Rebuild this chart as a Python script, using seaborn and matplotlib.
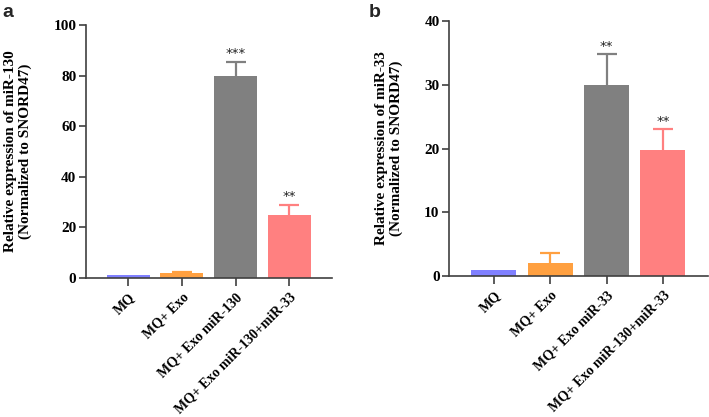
import matplotlib
matplotlib.use("Agg")
import matplotlib.pyplot as plt
import seaborn as sns
import pandas as pd

sns.set_theme(style="white")
plt.rcParams['font.family'] = ['Liberation Serif', 'DejaVu Serif']

cats_a = ["MQ", "MQ+ Exo", "MQ+ Exo miR-130", "MQ+ Exo miR-130+miR-33"]
vals_a = [1.0, 1.8, 80.0, 25.0]
errs_a = [0.0, 0.7, 5.5, 4.0]
stars_a = ["", "", "***", "**"]

cats_b = ["MQ", "MQ+ Exo", "MQ+ Exo miR-33", "MQ+ Exo miR-130+miR-33"]
vals_b = [1.0, 2.0, 30.0, 19.7]
errs_b = [0.0, 1.6, 4.8, 3.3]
stars_b = ["", "", "**", "**"]

colors = ["#8080FF", "#FFA040", "#808080", "#FF8080"]

ylabels = ["Relative expression of miR-130\n(Normalized to SNORD47)",
           "Relative expression of miR-33\n(Normalized to SNORD47)"]
yticks_a = [0, 20, 40, 60, 80, 100]
yticks_b = [0, 10, 20, 30, 40]

fig = plt.figure(figsize=(7.09, 4.17), dpi=100)
ax_a = fig.add_axes([86/709, 1-278/417, 246/709, 253/417])
ax_b = fig.add_axes([449.3/709, 1-276/417, 258.7/709, 255/417])

spine_col = "#404040"

def draw(ax, cats, vals, errs, stars, ylabel, yticks, letter, letter_x):
    df = pd.DataFrame({"group": cats, "value": vals})
    sns.barplot(data=df, x="group", y="value", hue="group", palette=colors,
                legend=False, ax=ax, width=0.8, saturation=1, errorbar=None,
                linewidth=0, edgecolor="none")
    xs = list(range(len(cats)))
    for x, v, e, c, s in zip(xs, vals, errs, colors, stars):
        if e > 0:
            eb = ax.errorbar([x], [v], yerr=[[0], [e]], fmt="none", ecolor=c,
                             elinewidth=1.6, capsize=7.5, capthick=1.6)
            caps = eb[1]
            if len(caps) == 2:
                caps[0].set_visible(False)
        if s:
            ax.annotate(s, (x, v + e), xytext=(0, 1), textcoords="offset points",
                        ha="center", va="bottom", fontsize=9.5,
                        family="DejaVu Sans", color="#222222")
    ax.set_ylim(0, yticks[-1])
    ax.set_yticks(yticks)
    ax.set_xlim(-0.79, 3.8)
    ax.set_xlabel("")
    ax.set_ylabel(ylabel, fontsize=11, fontweight="bold", color="black", labelpad=15)
    ax.set_xticks(xs)
    ax.set_xticklabels(cats, rotation=45, ha="right", rotation_mode="anchor",
                       fontsize=10, fontweight="bold")
    for lab in ax.get_yticklabels():
        lab.set_fontweight("bold")
        lab.set_fontsize(11)
    for sp in ["top", "right"]:
        ax.spines[sp].set_visible(False)
    for sp in ["left", "bottom"]:
        ax.spines[sp].set_color(spine_col)
        ax.spines[sp].set_linewidth(1.2)
    ax.tick_params(axis="y", direction="out", length=5, width=1.2, color=spine_col,
                   pad=2, left=True, labelcolor="black")
    ax.tick_params(axis="x", direction="out", length=6, width=1.2, color=spine_col,
                   pad=3, bottom=True, labelcolor="black")
    fig.text(letter_x, 1 - 4/417, letter, fontsize=14, fontweight="bold",
             family="Liberation Sans", ha="left", va="top")

draw(ax_a, cats_a, vals_a, errs_a, stars_a, ylabels[0], yticks_a, "a", 2/709)
draw(ax_b, cats_b, vals_b, errs_b, stars_b, ylabels[1], yticks_b, "b", 369/709)

fig.savefig("out.png", dpi=100)
